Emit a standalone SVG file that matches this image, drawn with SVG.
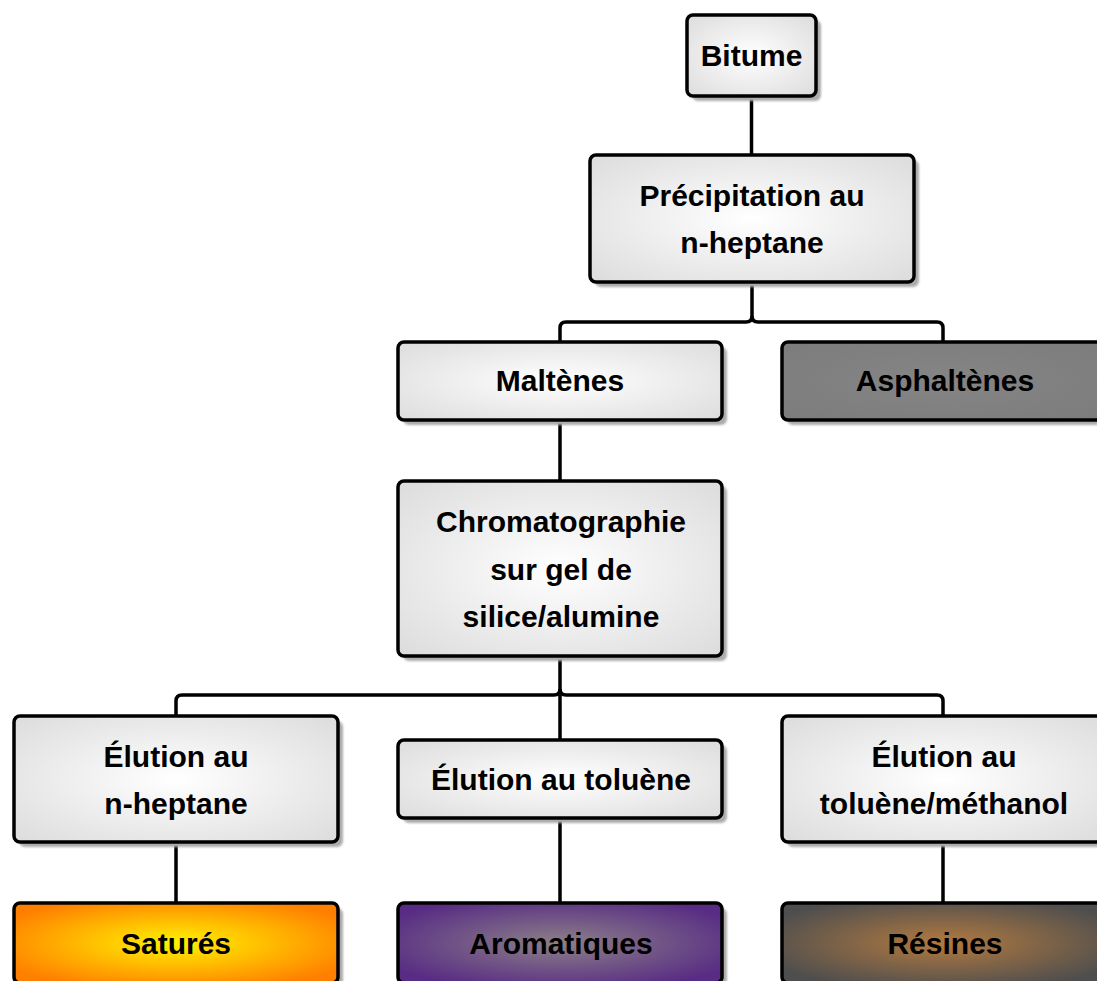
<svg xmlns="http://www.w3.org/2000/svg" width="1097" height="981" viewBox="0 0 1097 981">
<defs>
<radialGradient id="gLight" cx="50%" cy="50%" r="70%"><stop offset="0" stop-color="#ffffff"/><stop offset="1" stop-color="#dcdcdc"/></radialGradient>
<radialGradient id="gAsph" cx="50%" cy="50%" r="70%"><stop offset="0" stop-color="#858585"/><stop offset="1" stop-color="#7c7c7c"/></radialGradient>
<radialGradient id="gSat" cx="50%" cy="50%" r="60%"><stop offset="0" stop-color="#fff200"/><stop offset="1" stop-color="#ff7f00"/></radialGradient>
<radialGradient id="gArom" cx="50%" cy="50%" r="60%"><stop offset="0" stop-color="#8c8088"/><stop offset="1" stop-color="#582c84"/></radialGradient>
<radialGradient id="gRes" cx="50%" cy="50%" r="60%"><stop offset="0" stop-color="#b27a40"/><stop offset="1" stop-color="#4e4e4e"/></radialGradient>
<filter id="blur" x="-10%" y="-10%" width="120%" height="120%"><feGaussianBlur stdDeviation="1"/></filter>
</defs>
<style>
.sh{fill:#acacac;filter:url(#blur)}
.bx{stroke:#000;stroke-width:3.5}
.t{font-family:"Liberation Sans",Arial,sans-serif;font-weight:bold;font-size:30px;text-anchor:middle;fill:#000}
.c{fill:none;stroke:#000;stroke-width:3.5;stroke-linejoin:round}
</style>
<rect width="1097" height="981" fill="#fff"/>
<g id="connectors">
<path class="c" d="M751.5 96V155"/>
<path class="c" d="M752 282V316Q752 322 746 322H566Q560 322 560 328V342"/>
<path class="c" d="M752 316Q752 322 758 322H937Q943 322 943 328V342"/>
<path class="c" d="M560 420V481"/>
<path class="c" d="M560 656V689Q560 695 554 695H182Q176 695 176 701V716"/>
<path class="c" d="M560 689Q560 695 566 695H937Q943 695 943 701V716"/>
<path class="c" d="M560 689V740"/>
<path class="c" d="M176 842V903"/>
<path class="c" d="M560 818V903"/>
<path class="c" d="M943 842V903"/>
</g>
<g id="bitume"><rect class="sh" x="692" y="20" width="129" height="81" rx="6"/><rect class="bx" x="687" y="15" width="129" height="81" rx="6" fill="url(#gLight)"/><text class="t" x="751.5" y="66">Bitume</text></g>
<g id="precipitation"><rect class="sh" x="595" y="160" width="324" height="127" rx="6"/><rect class="bx" x="590" y="155" width="324" height="127" rx="6" fill="url(#gLight)"/><text class="t" x="752" y="206">Précipitation au</text><text class="t" x="752" y="253">n-heptane</text></g>
<g id="maltenes"><rect class="sh" x="403" y="347" width="324" height="78" rx="6"/><rect class="bx" x="398" y="342" width="324" height="78" rx="6" fill="url(#gLight)"/><text class="t" x="560" y="391">Maltènes</text></g>
<g id="asphaltenes"><rect class="sh" x="787" y="347" width="324" height="78" rx="6"/><rect class="bx" x="782" y="342" width="324" height="78" rx="6" fill="url(#gAsph)"/><text class="t" x="945" y="391">Asphaltènes</text></g>
<g id="chromatographie"><rect class="sh" x="403" y="486" width="324" height="175" rx="6"/><rect class="bx" x="398" y="481" width="324" height="175" rx="6" fill="url(#gLight)"/><text class="t" x="561" y="532">Chromatographie</text><text class="t" x="561" y="580">sur gel de</text><text class="t" x="561" y="627">silice/alumine</text></g>
<g id="elution-heptane"><rect class="sh" x="19" y="721" width="324" height="126" rx="6"/><rect class="bx" x="14" y="716" width="324" height="126" rx="6" fill="url(#gLight)"/><text class="t" x="176" y="767">Élution au</text><text class="t" x="176" y="814">n-heptane</text></g>
<g id="elution-toluene"><rect class="sh" x="403" y="745" width="324" height="78" rx="6"/><rect class="bx" x="398" y="740" width="324" height="78" rx="6" fill="url(#gLight)"/><text class="t" x="561" y="790">Élution au toluène</text></g>
<g id="elution-toluene-methanol"><rect class="sh" x="787" y="721" width="324" height="126" rx="6"/><rect class="bx" x="782" y="716" width="324" height="126" rx="6" fill="url(#gLight)"/><text class="t" x="944" y="767">Élution au</text><text class="t" x="944" y="814">toluène/méthanol</text></g>
<g id="satures"><rect class="sh" x="19" y="908" width="324" height="80" rx="6"/><rect class="bx" x="14" y="903" width="324" height="80" rx="6" fill="url(#gSat)"/><text class="t" x="176" y="954">Saturés</text></g>
<g id="aromatiques"><rect class="sh" x="403" y="908" width="324" height="80" rx="6"/><rect class="bx" x="398" y="903" width="324" height="80" rx="6" fill="url(#gArom)"/><text class="t" x="561" y="954">Aromatiques</text></g>
<g id="resines"><rect class="sh" x="787" y="908" width="324" height="80" rx="6"/><rect class="bx" x="782" y="903" width="324" height="80" rx="6" fill="url(#gRes)"/><text class="t" x="945" y="954">Résines</text></g>
</svg>
